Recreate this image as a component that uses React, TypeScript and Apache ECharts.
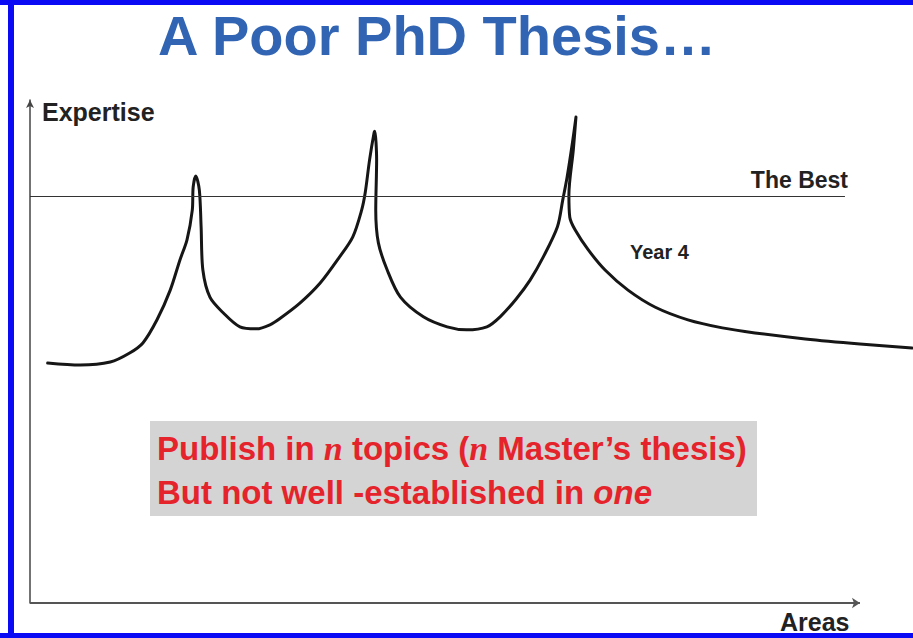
import React, { useEffect, useRef } from "react";
import * as echarts from "echarts";

// Curve of expertise across areas (x: areas 0..100, y: expertise 0..100)
const curveX = [
  2.0, 5.7, 9.1, 11.3, 12.8, 14.4, 15.9, 17.0, 17.8, 18.4, 18.5, 18.8, 19.2, 19.4, 19.6, 20.4, 21.9, 23.8, 25.7, 27.2, 28.3,
  30.6, 32.9, 35.1, 36.6, 37.6, 38.0, 38.5, 39.0, 39.1, 39.3, 39.2, 39.5, 40.5, 42.0, 44.6, 47.3, 49.5, 51.8, 53.3,
  55.1, 56.7, 58.2, 59.8, 60.4, 60.9, 61.5, 61.9, 61.6, 61.1, 61.2, 61.8, 63.3, 65.2, 67.8, 70.9, 74.6, 78.5, 82.2, 87.9, 94.1, 100.0,
];
const curveY = [
  47.7, 47.3, 47.9, 49.7, 51.7, 56.3, 62.2, 68.2, 72.2, 78.1, 82.7, 84.9, 82.1, 74.8, 66.2, 60.8, 57.7, 54.9, 54.5, 55.3, 56.5,
  59.6, 63.6, 68.8, 72.8, 78.1, 81.5, 88.1, 93.4, 93.8, 88.1, 78.1, 71.6, 66.2, 60.8, 56.9, 54.9, 54.3, 54.9, 56.9,
  60.4, 64.2, 68.8, 74.8, 80.1, 84.7, 91.5, 96.6, 90.1, 81.1, 76.7, 74.2, 70.2, 66.2, 62.2, 58.8, 56.3, 54.7, 53.7, 52.5, 51.5, 50.7,
];
const bestLevel = 80.9;
const bestLineEnd = 92.4;
const xArrowEnd = 94.1;
const xAxisMax = 100;
const yAxisMax = 100;

const titleText = "A Poor PhD Thesis…";
const yAxisName = "Expertise";
const xAxisName = "Areas";
const bestLabel = "The Best";
const yearLabel = "Year 4";

export default function App() {
  const ref = useRef<HTMLDivElement>(null);
  useEffect(() => {
    if (!ref.current) return;
    const chart = echarts.init(ref.current, undefined, { renderer: "svg" });
    const font = "'Liberation Sans', Arial, sans-serif";
    const red = "#e5232b";
    const data = curveX.map((x, i) => [x, curveY[i]]);
    chart.setOption({
      animation: false,
      backgroundColor: "#ffffff",
      grid: { left: 30, right: 1, top: 100, bottom: 35 },
      xAxis: {
        type: "value",
        min: 0,
        max: xAxisMax,
        axisLine: { show: false },
        axisTick: { show: false },
        axisLabel: { show: false },
        splitLine: { show: false },
      },
      yAxis: {
        type: "value",
        min: 0,
        max: yAxisMax,
        axisLine: { show: true, symbol: ["none", "arrow"], symbolSize: [6, 8], lineStyle: { color: "#444", width: 1.5 } },
        axisTick: { show: false },
        axisLabel: { show: false },
        splitLine: { show: false },
      },
      series: [
        {
          type: "line",
          data,
          showSymbol: false,
          smooth: 0.3,
          clip: false,
          lineStyle: { color: "#161616", width: 3, cap: "round", join: "round" },
          markLine: {
            silent: true,
            label: { show: false },
            data: [
              [
                { coord: [0, bestLevel], symbol: "none", lineStyle: { color: "#333", width: 1, type: "solid" } },
                { coord: [bestLineEnd, bestLevel], symbol: "none" },
              ],
              [
                { coord: [0, 0], symbol: "none", lineStyle: { color: "#555", width: 2, type: "solid" } },
                { coord: [xArrowEnd, 0], symbol: "arrow", symbolSize: 8 },
              ],
            ],
          },
        },
      ],
      graphic: [
        { type: "rect", shape: { x: 0, y: 0, width: 913, height: 5 }, style: { fill: "#0a0af5" } },
        { type: "rect", shape: { x: 8, y: 0, width: 6, height: 638 }, style: { fill: "#0a0af5" } },
        { type: "rect", shape: { x: 0, y: 633, width: 913, height: 5 }, style: { fill: "#0a0af5" } },
        {
          type: "text", x: 158, y: 35,
          style: { text: titleText, font: `bold 56px ${font}`, fill: "#3164b3", verticalAlign: "middle" },
        },
        {
          type: "text", x: 42, y: 112,
          style: { text: yAxisName, font: `bold 25px ${font}`, fill: "#222", verticalAlign: "middle" },
        },
        {
          type: "text", x: 848, y: 180,
          style: { text: bestLabel, font: `bold 23px ${font}`, fill: "#222", align: "right", verticalAlign: "middle" },
        },
        {
          type: "text", x: 630, y: 252,
          style: { text: yearLabel, font: `bold 20px ${font}`, fill: "#222", verticalAlign: "middle" },
        },
        {
          type: "text", x: 780, y: 622,
          style: { text: xAxisName, font: `bold 25px ${font}`, fill: "#222", verticalAlign: "middle" },
        },
        { type: "rect", shape: { x: 150, y: 421, width: 607, height: 95 }, style: { fill: "#d4d4d4" } },
        {
          type: "text", x: 157, y: 448,
          style: {
            text: "{a|Publish in }{n|n}{a| topics (}{n|n}{a| Master’s thesis)}",
            verticalAlign: "middle",
            rich: {
              a: { font: `bold 33px ${font}`, fill: red, color: red },
              n: { font: `italic bold 34px 'Liberation Serif', 'Times New Roman', serif`, fill: red, color: red },
            },
          },
        },
        {
          type: "text", x: 157, y: 492,
          style: {
            text: "{a|But not well -established in }{i|one}",
            verticalAlign: "middle",
            rich: {
              a: { font: `bold 33px ${font}`, fill: red, color: red },
              i: { font: `italic bold 33px ${font}`, fill: red, color: red },
            },
          },
        },
      ],
    });
    return () => chart.dispose();
  }, []);
  return (
    <div
      ref={ref}
      style={{ position: "absolute", left: 0, top: 0, width: 913, height: 638, background: "#fff" }}
    />
  );
}
